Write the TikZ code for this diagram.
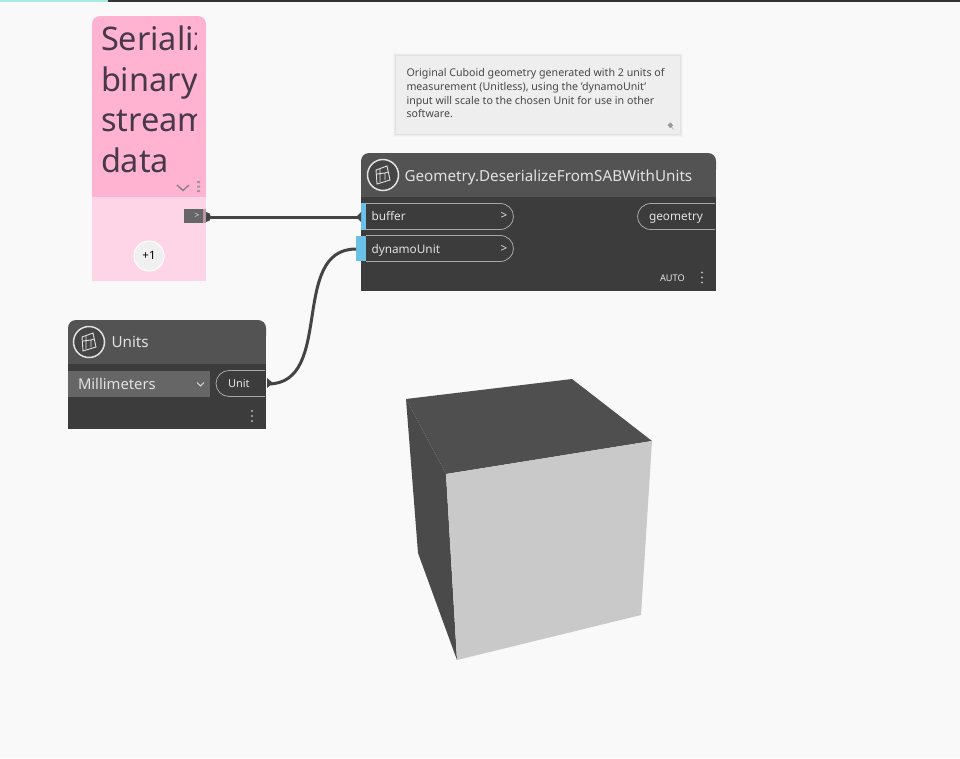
\documentclass[tikz,border=0pt]{standalone}
\usepackage{fontspec}
\setmainfont{Noto Sans}
\definecolor{pagebg}{HTML}{F9F9F9}
\definecolor{headgrey}{HTML}{535353}
\definecolor{bodygrey}{HTML}{3C3C3C}
\definecolor{portblue}{HTML}{6AC0E7}
\definecolor{wiregrey}{HTML}{444444}
\definecolor{txtlight}{HTML}{E2E2E2}
\definecolor{linegrey}{HTML}{A8A8A8}
\definecolor{pinktop}{HTML}{FFB3D1}
\definecolor{pinklow}{HTML}{FDD5E7}
\definecolor{pinktxt}{HTML}{47394A}
\definecolor{topcyan}{HTML}{A8EBE4}
\definecolor{notebg}{HTML}{EEEEEE}
\tikzset{
  pxtext/.style={inner sep=0pt,outer sep=0pt,anchor=base west},
  porttxt/.style={pxtext,text=txtlight,font=\fontsize{11.8}{14}\selectfont},
  headtxt/.style={pxtext,text=txtlight,font=\fontsize{15.2}{18}\selectfont},
  pinklabel/.style={pxtext,text=pinktxt,font=\fontsize{32.5}{38}\selectfont},
  portline/.style={draw=linegrey,line width=0.8pt},
  wire/.style={draw=wiregrey,line width=3pt},
  knob/.style={fill=wiregrey,draw=none},
}
\newcommand{\tophead}[5]{%
  \fill[#5,rounded corners=8pt] (#1,#2) rectangle (#3,#2+24);
  \fill[#5] (#1,#2+12) rectangle (#3,#4);}
\newcommand{\nodeicon}[2]{%
  \begin{scope}[shift={(#1,#2)}]
    \draw[txtlight,line width=1.5pt,fill=bodygrey!60!headgrey] (0,0) circle (15.5);
    \draw[txtlight,line width=0.9pt] (-7,-5) -- (4,-9) -- (7,5) -- (-6,9) -- cycle;
    \draw[txtlight,line width=0.9pt] (-3,-6) -- (-3,7) (-6,-1) -- (2,-2) -- (2,5) (2,-2) -- (5,-3);
  \end{scope}}
\newcommand{\dotsv}[2]{%
  \fill[txtlight!80!black] (#1,#2-5) circle (1.1) (#1,#2) circle (1.1) (#1,#2+5) circle (1.1);}
\begin{document}
\begin{tikzpicture}[x=1pt,y=-1pt]
\useasboundingbox (0,0) rectangle (960,758);
\fill[pagebg] (0,0) rectangle (960,758);
\fill[black!80] (108,0) rectangle (960,2);
\fill[topcyan] (0,0) rectangle (108,2);

% Note
\foreach \g/\o in {3/0.02,2/0.03,1/0.04}{
  \fill[black,opacity=\o] (396-\g,56-\g) rectangle (680+\g,134+\g);}
\fill[notebg] (396,56) rectangle (680,134);
\node[pxtext,anchor=north west,text=black!72,align=left,font=\fontsize{10.65}{13.7}\selectfont] (note) at (406.5,68.5)
  {Original Cuboid geometry generated with 2 units of\\measurement (Unitless), using the 'dynamoUnit'\\input will scale to the chosen Unit for use in other\\software.};
\fill[black!40,rotate around={40:(671,126)}] (669,123) rectangle (673,127) (671,127) -- (671,131) -- (670.4,127) -- cycle;

% Pink group
\tophead{92}{16}{206}{197}{pinktop}
\fill[pinklow] (92,197) rectangle (206,281);
\begin{scope}
  \clip (92,16) rectangle (196,197);
  \node[pinklabel] (t1) at (101,50) {Serialize};
  \node[pinklabel] (t2) at (101,91) {binary};
  \node[pinklabel] (t3) at (101,131.5) {stream};
  \node[pinklabel] (t4) at (101,172) {data};
\end{scope}
\draw[black!50,line width=1.3pt] (177,185) -- (183,190.5) -- (189,185);
\fill[black!40] (197,181) rectangle (200,183) (197,185.5) rectangle (200,187.5) (197,190) rectangle (200,192);
\fill[black!60] (184,209) rectangle (203,223);
\fill[pinktop!60!black!70] (203,209) rectangle (206,223);
\node[pxtext,anchor=center,text=white!85!black,font=\fontsize{9}{10}\selectfont] (gt) at (197,215.5) {>};
\fill[black!6,draw=white,line width=1pt] (149,256) circle (15);
\node[pxtext,anchor=center,text=black,font=\fontsize{11.5}{14}\selectfont] (plus) at (149,255.5) {+1};

% Geometry node
\fill[bodygrey] (361,197) rectangle (716,291);
\tophead{361}{153}{716}{197}{headgrey}
\nodeicon{383}{175}
\node[headtxt] (gtitle) at (404.5,181) {Geometry.DeserializeFromSABWithUnits};
\path[portline] (366,203.5) -- (500,203.5) arc[start angle=-90,end angle=90,x radius=13.5,y radius=13] -- (366,229.5);
\path[portline] (366,235.5) -- (500,235.5) arc[start angle=-90,end angle=90,x radius=13.5,y radius=13] -- (366,261.5);
\fill[portblue] (361,203) rectangle (366,230);
\fill[portblue] (356,236) rectangle (366,261);
\node[porttxt] (buffer) at (371.5,220) {buffer};
\node[porttxt] (dyn) at (371.5,253) {dynamoUnit};
\node[porttxt,anchor=center] (g1) at (504,216) {>};
\node[porttxt,anchor=center] (g2) at (504,249) {>};
\path[portline] (715,203.5) -- (651,203.5) arc[start angle=270,end angle=90,x radius=13.5,y radius=13] -- (715,229.5);
\node[porttxt] (geom) at (649,220) {geometry};
\node[pxtext,text=white!90!black,font=\fontsize{9.2}{10}\bfseries\selectfont] (auto) at (660,281) {AUTO};
\dotsv{702}{277.5}

% Units node
\fill[bodygrey] (68,364) rectangle (266,429);
\tophead{68}{320}{266}{364}{headgrey}
\nodeicon{89}{342}
\node[headtxt] (utitle) at (111.5,347.5) {Units};
\fill[black!60] (68,371) rectangle (210,397);
\node[pxtext,text=txtlight,font=\fontsize{14.8}{16}\selectfont] (mm) at (78,389.5) {Millimeters};
\draw[txtlight,line width=1pt] (197,382.5) -- (200.5,386) -- (204,382.5);
\path[portline] (265,370.5) -- (229,370.5) arc[start angle=270,end angle=90,x radius=13,y radius=13] -- (265,396.5);
\node[porttxt,font=\fontsize{11}{13}\selectfont] (unit) at (228,387) {Unit};
\dotsv{252}{416}

% Connectors
\coordinate (outA) at (207,217);
\coordinate (inA) at (360,217);
\coordinate (outB) at (268,384);
\coordinate (inB) at (356,249);
\draw[wire] (outA) -- (inA);
\draw[wire] (outB) .. controls (335,384) and (289,249) .. (inB);
\fill[knob] (206,212) arc[start angle=-90,end angle=90,radius=5] -- cycle;
\fill[knob] (361,212) -- (356,217) -- (361,222) -- cycle;
\fill[knob] (267,378) -- (273,383) -- (267,388) -- cycle;

% Cuboid
\fill[black!69] (406,399) -- (572,379) -- (652,441) -- (446,474) -- cycle;
\fill[black!71] (406,399) -- (446,474) -- (457,660) -- (418,553) -- cycle;
\fill[black!21] (446,474) -- (652,441) -- (641,615) -- (457,660) -- cycle;
\end{tikzpicture}
\end{document}
